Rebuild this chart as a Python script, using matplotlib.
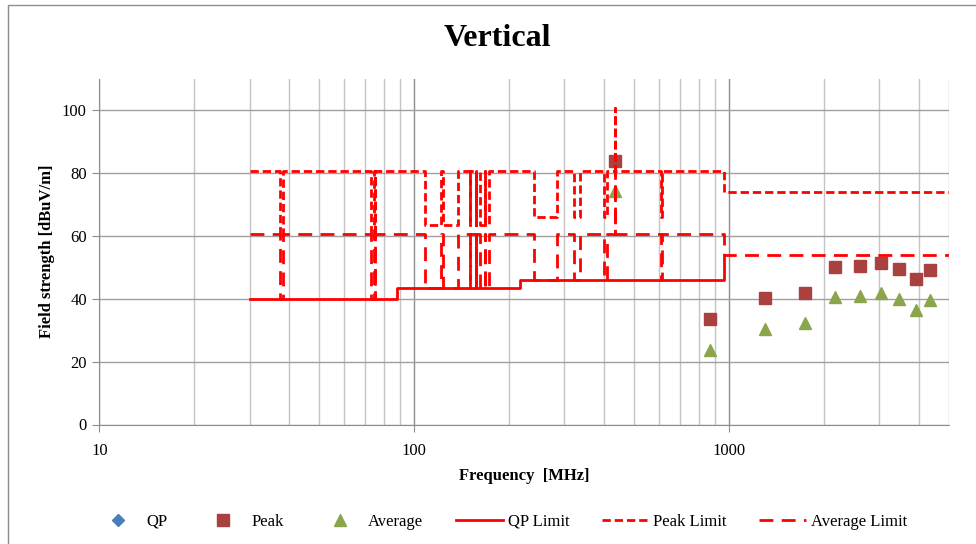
import numpy as np
import matplotlib
matplotlib.use('Agg')
import matplotlib.pyplot as plt
from matplotlib.patches import Rectangle
from matplotlib.ticker import FixedLocator, NullFormatter

plt.rcParams['font.family'] = ['Liberation Serif', 'DejaVu Serif']

# measured emissions (fundamental at 433.92 MHz and harmonics)
freq = [433.92, 867.84, 1301.76, 1735.68, 2169.6, 2603.52, 3037.44, 3471.36, 3905.28, 4339.2]
peak = [84.0, 33.5, 40.2, 41.8, 50.2, 50.6, 51.4, 49.6, 46.2, 49.2]
average = [74.3, 23.8, 30.5, 32.2, 40.5, 40.9, 41.8, 40.1, 36.6, 39.7]
qp = []

# QP limit steps
qp_edges = [30, 88, 216, 960]
qp_levels = [40.0, 43.5, 46.0, 54.0]

# harmonic limits 30-960 MHz and above 960 MHz
peak_lim_low, avg_lim_low = 80.8, 60.8
peak_lim_high, avg_lim_high = 74.0, 54.0
fund_freq = 433.92
fund_peak_lim, fund_avg_lim = 100.8, 80.8

# restricted bands below 960 MHz
band_lo = [37.5, 73.0, 74.8, 108.0, 123.0, 149.9, 156.52475, 156.7, 162.0125, 167.72, 240.0, 322.0, 399.9, 608.0]
band_hi = [38.25, 74.6, 75.2, 121.94, 138.0, 150.05, 156.52525, 156.9, 167.17, 173.2, 285.0, 335.4, 410.0, 614.0]
f_stop = 5000


def qp_at(f):
    lvl = qp_levels[0]
    for e, l in zip(qp_edges, qp_levels):
        if f >= e:
            lvl = l
    return lvl


def limit_line(base, offset, fund_lim, high):
    xs, ys = [qp_edges[0]], [base]
    events = [(lo, hi) for lo, hi in zip(band_lo, band_hi)] + [(fund_freq, None)]
    events.sort(key=lambda e: e[0])
    for lo, hi in events:
        if hi is None:
            xs += [lo, lo, lo]
            ys += [base, fund_lim, base]
        else:
            r = qp_at(lo) + offset
            xs += [lo, lo, hi, hi]
            ys += [base, r, r, base]
    xs += [qp_edges[-1], qp_edges[-1], f_stop]
    ys += [base, high, high]
    return xs, ys


qp_x, qp_y = [qp_edges[0]], [qp_levels[0]]
for e, l in zip(qp_edges[1:], qp_levels[1:]):
    qp_x += [e, e]
    qp_y += [qp_y[-1], l]

pk_x, pk_y = limit_line(peak_lim_low, 20, fund_peak_lim, peak_lim_high)
av_x, av_y = limit_line(avg_lim_low, 0, fund_avg_lim, avg_lim_high)

fig = plt.figure(figsize=(9.76, 5.44), dpi=100)
ax = fig.add_axes([99.3 / 976, 1 - 424.5 / 544, 850 / 976, 345.5 / 544])

fig.patches.append(Rectangle((8 / 976, -0.1), 1.2, 1 - 5 / 544 + 0.1, transform=fig.transFigure,
                             fill=False, edgecolor='#8c8c8c', linewidth=1.0))

ax.plot(qp, qp, linestyle='none', marker='D', color='#4a7ebb', markersize=6.5, label='QP')
ax.plot(freq, peak, linestyle='none', marker='s', color='#a8413f', markersize=8, label='Peak')
ax.plot(freq, average, linestyle='none', marker='^', color='#8aa54b', markersize=9, label='Average')
ax.plot(qp_x, qp_y, color='#ff0000', linewidth=2.0, label='QP Limit')
ax.plot(pk_x, pk_y, color='#ff0000', linewidth=2.0, dashes=(3.0, 1.4), label='Peak Limit')
ax.plot(av_x, av_y, color='#ff0000', linewidth=2.0, dashes=(5.0, 3.0), label='Average Limit')

ax.set_xscale('log')
ax.set_xlim(10, 5000)
ax.set_ylim(0, 110)
ax.set_yticks(range(0, 101, 20))
ax.xaxis.set_major_locator(FixedLocator([10, 100, 1000]))
ax.xaxis.set_minor_locator(FixedLocator([m * d for d in (10, 100, 1000) for m in range(2, 10) if m * d <= 5000]))
ax.xaxis.set_minor_formatter(NullFormatter())
ax.set_xticklabels(['10', '100', '1000'])

ax.grid(True, which='major', axis='y', color='#a0a0a0', linewidth=1.0)
ax.grid(True, which='major', axis='x', color='#8c8c8c', linewidth=1.0)
ax.grid(True, which='minor', axis='x', color='#c4c4c4', linewidth=1.0)
ax.set_axisbelow(True)

for s in ['top', 'right']:
    ax.spines[s].set_visible(False)
for s in ['left', 'bottom']:
    ax.spines[s].set_color('#8c8c8c')
ax.tick_params(axis='both', which='major', length=5, color='#8c8c8c', labelsize=12, pad=4)
ax.tick_params(axis='x', which='major', pad=8)
ax.tick_params(axis='x', which='minor', length=0)

ax.set_xlabel('Frequency  [MHz]', fontsize=12, fontweight='bold', labelpad=7)
ax.set_ylabel('Field strength [dBuV/m]', fontsize=12, fontweight='bold', labelpad=5)
fig.text(497 / 976, 1 - 39 / 544, 'Vertical', ha='center', va='center', fontsize=23, fontweight='bold')

fig.legend(loc='center', bbox_to_anchor=(0.5133, 1 - 522 / 544), ncol=6, frameon=False, fontsize=12,
           handlelength=2.8, handletextpad=0.3, columnspacing=1.95)

fig.savefig('out.png', dpi=100)
